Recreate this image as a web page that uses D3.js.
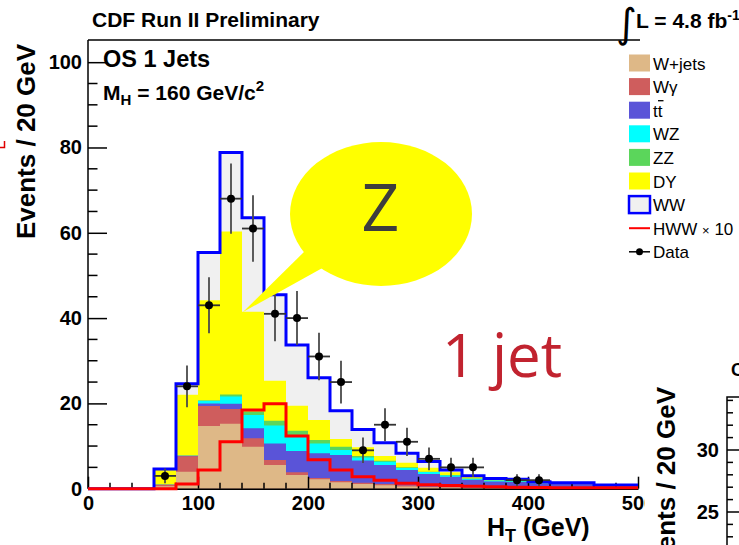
<!DOCTYPE html>
<html>
<head>
<meta charset="utf-8">
<script src="https://cdn.jsdelivr.net/npm/d3@7"></script>
<style>
  html, body { margin: 0; padding: 0; background: #fff; }
  svg { display: block; }
  text { font-family: "Liberation Sans", Arial, Helvetica, sans-serif; }
</style>
</head>
<body>
<svg id="chart" width="739" height="545"></svg>
<script>
// H_T histogram, 20 GeV bins from 0 to 500 GeV
const binLow = [0, 20, 40, 60, 80, 100, 120, 140, 160, 180, 200, 220, 240,
                260, 280, 300, 320, 340, 360, 380, 400, 420, 440, 460, 480];
const binWidth = 20;

// background expectations, stacked bottom to top
const wJets  = [0, 0, 0, 0.6, 4.0, 14.7, 15.2, 9.85, 5.55, 3.2, 2.2, 1.5, 1.1,
                0.8, 0.5, 0.35, 0.3, 0.2, 0.15, 0.1, 0.1, 0.05, 0.05, 0.05, 0.05];
const wGamma = [0, 0, 0, 0.3, 3.6, 4.7, 3.5, 1.95, 1.15, 0.65, 0.3, 0.3, 0.3,
                0.3, 0.3, 0.15, 0.15, 0.1, 0.05, 0.05, 0.05, 0.05, 0.05, 0.02, 0.02];
const ttbar  = [0, 0, 0, 0, 0.1, 0.6, 1.2, 2.4, 3.9, 5.0, 5.8, 6.1, 5.2,
                4.45, 3.6, 2.95, 2.35, 1.8, 1.5, 1.45, 1.1, 1.0, 1.0, 0.6, 0.6];
const wz     = [0, 0, 0, 0, 0, 0.6, 1.7, 3.1, 4.2, 3.75, 2.3, 1.2, 0.7,
                0.75, 0.45, 0.45, 0.3, 0.25, 0.2, 0.15, 0.1, 0.1, 0.1, 0.08, 0.08];
const zz     = [0, 0, 0, 0, 0, 0.1, 0.5, 0.8, 1.15, 1.0, 0.8, 0.75, 0.35,
                0.25, 0.15, 0.1, 0.1, 0.05, 0.05, 0.05, 0.05, 0.05, 0.05, 0.02, 0.02];
const dy     = [0, 0, 0, 3.6, 14.3, 23.5, 38.2, 23.4, 9.35, 5.85, 4.7, 1.8, 2.05,
                1.1, 1.1, 0.9, 0.65, 0.35, 0.25, 0.2, 0.15, 0.1, 0.1, 0.05, 0.05];
const ww     = [0, 0, 0, 0.1, 2.6, 11.2, 18.5, 22.0, 20.2, 14.25, 9.9, 6.65, 4.2,
                3.15, 2.2, 1.45, 0.55, 0.3, 0.2, 0.2, 0.1, 0.05, 0.05, 0.05, 0.05];

// Higgs signal (M_H = 160) scaled by 10, drawn unstacked
const hwwX10 = [0, 0, 0, 0, 1.1, 4.4, 11.0, 18.45, 19.9, 12.35, 6.8, 4.4, 2.8,
                2.0, 1.25, 0.9, 0.75, 0.6, 0.45, 0.35, 0.3, 0.25, 0.25, 0.2, 0.2];

// observed events
const dataCounts = [0, 0, 0, 3, 24, 43, 68, 61, 41, 40, 31, 25, 9,
                    15, 11, 7, 5, 5, 0, 2, 2, 0, 0, 0, 0];

const xTicks = [0, 100, 200, 300, 400, 500];
const yTicks = [0, 20, 40, 60, 80, 100];

const stackKeys   = ["wJets", "wGamma", "ttbar", "wz", "zz", "dy", "ww"];
const stackSeries = [wJets, wGamma, ttbar, wz, zz, dy, ww];
const stackColors = ["#deb887", "#cf5d5d", "#5a54d8", "#00ffff", "#5bd65b", "#ffff00", "#f0f0f0"];
const legendLabels = ["W+jets", "W\u03b3", "tt", "WZ", "ZZ", "DY", "WW", "HWW", "Data"];

const svg = d3.select("#chart");

const x = d3.scaleLinear().domain([0, 500]).range([88, 638]);
const y = d3.scaleLinear().domain([0, 105.2]).range([488.7, 40]);

// stacked table
const table = binLow.map((lo, i) => {
  const row = { lo };
  stackKeys.forEach((k, j) => { row[k] = stackSeries[j][i]; });
  return row;
});
const stacked = d3.stack().keys(stackKeys)(table);

const stepPoints = (vals) => {
  const pts = binLow.map((lo, i) => [lo, vals[i]]);
  pts.push([binLow[binLow.length - 1] + binWidth, vals[vals.length - 1]]);
  return pts;
};

const area = d3.area()
  .x(p => x(p[0])).y0(y(0)).y1(p => y(p[1]))
  .curve(d3.curveStepAfter);
const line = d3.line()
  .x(p => x(p[0])).y(p => y(p[1]))
  .curve(d3.curveStepAfter);

// cumulative fills, painted from the full stack down
const fills = svg.append("g");
for (let k = stacked.length - 1; k >= 0; k--) {
  const tops = stacked[k].map(d => d[1]);
  fills.append("path")
    .attr("d", area(stepPoints(tops)))
    .attr("fill", stackColors[k]);
}

// axes
const axisG = svg.append("g");
axisG.append("line")
  .attr("x1", x(0)).attr("x2", x(500) + 2).attr("y1", 40).attr("y2", 40)
  .attr("stroke", "#000").attr("stroke-width", 1.5);

const yAxis = d3.axisLeft(y).tickValues(yTicks).tickSizeInner(-19).tickSizeOuter(0).tickPadding(6);
const gy = axisG.append("g").attr("transform", `translate(${x(0)},0)`).call(yAxis);
gy.select(".domain").attr("d", `M0,${y(0)}V40`).attr("stroke-width", 1.5);
gy.selectAll(".tick line").attr("stroke-width", 1.5);
gy.selectAll(".tick text").style("font-family", "Liberation Sans").style("font-weight", "bold")
  .style("font-size", "20px").attr("fill", "#000");

const yMinor = d3.range(5, 105, 5).filter(v => v % 20 !== 0);
axisG.append("g").selectAll("line").data(yMinor).join("line")
  .attr("x1", x(0)).attr("x2", x(0) + 9.5)
  .attr("y1", d => y(d)).attr("y2", d => y(d))
  .attr("stroke", "#000").attr("stroke-width", 1.5);

const xAxis = d3.axisBottom(x).tickValues(xTicks).tickSizeInner(-12).tickSizeOuter(0).tickPadding(7);
const gx = axisG.append("g").attr("transform", `translate(0,${y(0)})`).call(xAxis);
gx.select(".domain").attr("stroke-width", 1.5);
gx.selectAll(".tick line").attr("stroke-width", 1.5);
gx.selectAll(".tick text").style("font-family", "Liberation Sans").style("font-weight", "bold")
  .style("font-size", "20px").attr("fill", "#000");

const xMinor = binLow.filter(v => v % 100 !== 0);
axisG.append("g").selectAll("line").data(xMinor).join("line")
  .attr("x1", d => x(d)).attr("x2", d => x(d))
  .attr("y1", y(0)).attr("y2", y(0) - 6)
  .attr("stroke", "#000").attr("stroke-width", 1.5);

// WW total outline and the signal line
const totals = stacked[stacked.length - 1].map(d => d[1]);
svg.append("path").attr("d", line(stepPoints(totals)))
  .attr("fill", "none").attr("stroke", "#0000ff").attr("stroke-width", 3);
svg.append("path").attr("d", line(stepPoints(hwwX10)))
  .attr("fill", "none").attr("stroke", "#ff0000").attr("stroke-width", 3);

// data with Poisson errors
const pts = binLow.map((lo, i) => ({ lo, n: dataCounts[i] })).filter(d => d.n > 0);
const dg = svg.append("g");
dg.selectAll("line.v").data(pts).join("line").attr("class", "v")
  .attr("x1", d => x(d.lo + binWidth / 2)).attr("x2", d => x(d.lo + binWidth / 2))
  .attr("y1", d => y(d.n - Math.sqrt(d.n))).attr("y2", d => y(d.n + Math.sqrt(d.n)))
  .attr("stroke", "#4a4a4a").attr("stroke-width", 1.8);
dg.selectAll("line.h").data(pts).join("line").attr("class", "h")
  .attr("x1", d => x(d.lo)).attr("x2", d => x(d.lo + binWidth))
  .attr("y1", d => y(d.n)).attr("y2", d => y(d.n))
  .attr("stroke", "#333").attr("stroke-width", 1.8);
dg.selectAll("circle").data(pts).join("circle")
  .attr("cx", d => x(d.lo + binWidth / 2)).attr("cy", d => y(d.n)).attr("r", 4)
  .attr("fill", "#000");

// legend
const lg = svg.append("g");
const rowY = i => 63 + i * 23.6;
legendLabels.forEach((lab, i) => {
  const cy = rowY(i);
  if (i < 7) {
    lg.append("rect").attr("x", 629).attr("y", cy - 8.5).attr("width", 21).attr("height", 17)
      .attr("fill", stackColors[i])
      .attr("stroke", i === 6 ? "#0000ff" : "none").attr("stroke-width", i === 6 ? 2.5 : 0);
  } else if (i === 7) {
    lg.append("line").attr("x1", 629).attr("x2", 650).attr("y1", cy).attr("y2", cy)
      .attr("stroke", "#ff0000").attr("stroke-width", 2);
  } else {
    lg.append("line").attr("x1", 629).attr("x2", 650).attr("y1", cy).attr("y2", cy)
      .attr("stroke", "#000").attr("stroke-width", 1.5);
    lg.append("circle").attr("cx", 639.5).attr("cy", cy).attr("r", 3.5).attr("fill", "#000");
  }
  const t = lg.append("text").attr("x", 653).attr("y", cy + 6.5)
    .style("font-size", "17px").attr("fill", "#000");
  if (i === 7) {
    t.text("HWW ");
    t.append("tspan").style("font-size", "13px").text("\u00d7");
    t.append("tspan").text(" 10");
  } else {
    t.text(lab);
  }
  if (i === 2) {
    lg.append("line").attr("x1", 658).attr("x2", 663.5).attr("y1", cy - 9.5).attr("y2", cy - 9.5)
      .attr("stroke", "#000").attr("stroke-width", 1.3);
  }
});

// headers
svg.append("text").attr("x", 92).attr("y", 27)
  .style("font-weight", "bold").style("font-size", "21px").text("CDF Run II Preliminary");
svg.append("text").attr("x", 616).attr("y", 37)
  .style("font-family", "DejaVu Sans").style("font-size", "40px").text("\u222b");
const lumi = svg.append("text").attr("x", 636).attr("y", 28)
  .style("font-weight", "bold").style("font-size", "21px").text("L = 4.8 fb");
lumi.append("tspan").attr("dy", -8).style("font-size", "14px").text("-1");

svg.append("text").attr("x", 103).attr("y", 67)
  .style("font-weight", "bold").style("font-size", "23.5px").text("OS 1 Jets");
const mh = svg.append("text").attr("x", 103).attr("y", 100)
  .style("font-weight", "bold").style("font-size", "21px").text("M");
mh.append("tspan").attr("dy", 5).style("font-size", "15px").text("H");
mh.append("tspan").attr("dy", -5).text(" = 160 GeV/c");
mh.append("tspan").attr("dy", -9).style("font-size", "15px").text("2");

// axis titles
const xt = svg.append("text").attr("x", 487).attr("y", 536)
  .style("font-weight", "bold").style("font-size", "25px").text("H");
xt.append("tspan").attr("dy", 6).style("font-size", "18px").text("T");
xt.append("tspan").attr("dy", -6).text(" (GeV)");
svg.append("text").attr("transform", "translate(35,141.5) rotate(-90)")
  .attr("text-anchor", "middle")
  .style("font-weight", "bold").style("font-size", "26px").text("Events / 20 GeV");

// callout bubble
const bubble = svg.append("g");
bubble.append("ellipse").attr("cx", 381).attr("cy", 214).attr("rx", 91).attr("ry", 72).attr("fill", "#ffff00");
bubble.append("polygon").attr("points", "307,249 243,312 326,266").attr("fill", "#ffff00");
bubble.append("text").attr("x", 380.5).attr("y", 231).attr("text-anchor", "middle")
  .style("font-family", "Open Sans").style("font-size", "66px").attr("fill", "#3d3d3d").text("Z");

svg.append("text").attr("x", 442).attr("y", 377)
  .style("font-family", "Open Sans").style("font-size", "60px").attr("fill", "#c1232f").text("1 jet");

// edge of the neighbouring panel
svg.append("rect").attr("x", 645).attr("y", 345).attr("width", 94).attr("height", 200).attr("fill", "#fff");
const y2 = d3.scaleLinear().domain([25, 30]).range([512, 450]);
const n2 = svg.append("g");
n2.append("path").attr("d", `M727,545V397H739`).attr("fill", "none").attr("stroke", "#000").attr("stroke-width", 1.5);
n2.selectAll("line").data(d3.range(23, 35)).join("line")
  .attr("x1", 727).attr("x2", d => 727 + (d % 5 === 0 ? 12 : 6))
  .attr("y1", d => y2(d)).attr("y2", d => y2(d))
  .attr("stroke", "#000").attr("stroke-width", 1.5);
n2.selectAll("text.t").data([25, 30]).join("text").attr("class", "t")
  .attr("x", 719).attr("y", d => y2(d) + 7).attr("text-anchor", "end")
  .style("font-weight", "bold").style("font-size", "20px").text(d => d);
n2.append("text").attr("x", 731).attr("y", 376)
  .style("font-weight", "bold").style("font-size", "18px").text("C");
n2.append("text").attr("transform", "translate(675,387) rotate(-90)").attr("text-anchor", "end")
  .style("font-weight", "bold").style("font-size", "26px").text("Events / 20 GeV");

// stray mark at the left edge
svg.append("path").attr("d", "M0,147.5H4.5V141").attr("fill", "none").attr("stroke", "#e00000").attr("stroke-width", 1.5);
</script>
</body>
</html>
